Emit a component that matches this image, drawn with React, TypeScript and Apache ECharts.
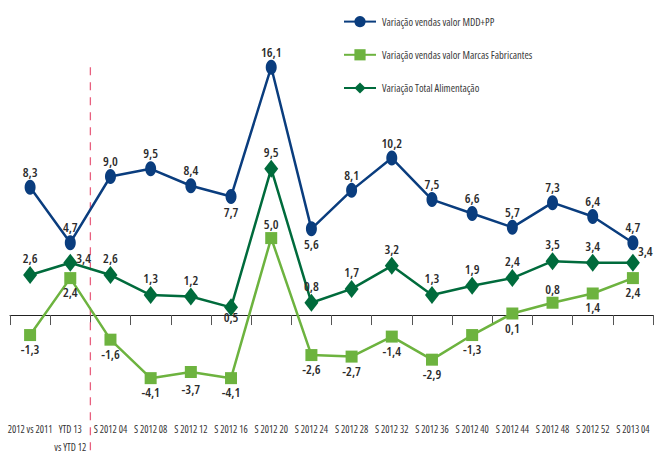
import React, { useEffect, useRef } from "react";
import * as echarts from "echarts";

const categories = [
  "2012 vs 2011",
  "YTD 13\nvs YTD 12",
  "S 2012 04",
  "S 2012 08",
  "S 2012 12",
  "S 2012 16",
  "S 2012 20",
  "S 2012 24",
  "S 2012 28",
  "S 2012 32",
  "S 2012 36",
  "S 2012 40",
  "S 2012 44",
  "S 2012 48",
  "S 2012 52",
  "S 2013 04",
];

const mddValues = [8.3, 4.7, 9.0, 9.5, 8.4, 7.7, 16.1, 5.6, 8.1, 10.2, 7.5, 6.6, 5.7, 7.3, 6.4, 4.7];
const mddLabelPos = ["top", "top", "top", "top", "top", "bottom", "top", "bottom", "top", "top", "top", "top", "top", "top", "top", "top"];

const marcasValues = [-1.3, 2.4, -1.6, -4.1, -3.7, -4.1, 5.0, -2.6, -2.7, -1.4, -2.9, -1.3, 0.1, 0.8, 1.4, 2.4];
const marcasLabelPos = ["bottom", "bottom", "bottom", "bottom", "bottom", "bottom", "top", "bottom", "bottom", "bottom", "bottom", "bottom", "bottom", "top", "bottom", "bottom"];

const totalValues = [2.6, 3.4, 2.6, 1.3, 1.2, 0.5, 9.5, 0.8, 1.7, 3.2, 1.3, 1.9, 2.4, 3.5, 3.4, 3.4];
const totalLabelPos = ["top", "right", "top", "top", "top", "bottom", "top", "top", "top", "top", "top", "top", "top", "top", "top", "right"];

const seriesNames = [
  "Variação vendas valor MDD+PP",
  "Variação vendas valor Marcas Fabricantes",
  "Variação Total Alimentação",
];

const FONT = "Open Sans";
const COND = "normal;font-stretch:condensed";
const fmt = (v: number) => v.toFixed(1).replace(".", ",");

function buildData(values: number[], positions: string[], special: Record<number, number[]> = {}) {
  return values.map((v, i) => ({
    value: v,
    label: {
      position: positions[i],
      distance: positions[i] === "right" ? 1 : 3,
      offset: special[i] || [0, 0],
    },
  }));
}

export default function App() {
  const ref = useRef<HTMLDivElement>(null);
  useEffect(() => {
    if (!ref.current) return;
    const chart = echarts.init(ref.current, undefined, { renderer: "svg" });
    const labelBase = {
      show: true,
      fontFamily: FONT,
      fontStyle: COND,
      fontSize: 13,
      fontWeight: 600,
      color: "#2b2b2b",
      formatter: (p: any) => fmt(p.value),
    };
    chart.setOption({
      animation: false,
      backgroundColor: "#ffffff",
      legend: {
        orient: "vertical",
        left: 338,
        top: 11,
        itemWidth: 32,
        itemHeight: 14,
        itemGap: 22,
        textStyle: {
          fontFamily: FONT,
          fontStyle: COND,
          fontSize: 10.5,
          color: "#3a3a3a",
          padding: [0, 0, 0, 1],
        },
        data: seriesNames,
      },
      grid: {
        left: 10,
        right: 2,
        top: 38,
        height: 354,
        containLabel: false,
        outerBoundsMode: "none",
      },
      xAxis: {
        type: "category",
        data: categories,
        boundaryGap: true,
        axisLine: { onZero: true, lineStyle: { color: "#222", width: 1 } },
        axisTick: { show: true, length: 10, lineStyle: { color: "#555" } },
        axisLabel: {
          interval: 0,
          margin: 28,
          fontFamily: FONT,
          fontStyle: COND,
          fontSize: 10,
          lineHeight: 18,
          color: "#333",
        },
      },
      yAxis: {
        type: "value",
        min: -5,
        max: 18,
        show: false,
        splitLine: { show: false },
      },
      series: [
        {
          name: seriesNames[0],
          type: "line",
          data: buildData(mddValues, mddLabelPos),
          symbol: "circle",
          symbolSize: [11, 15],
          itemStyle: { color: "#0a3d7e" },
          lineStyle: { color: "#0a3d7e", width: 2.5 },
          label: labelBase,
          z: 4,
        },
        {
          name: seriesNames[1],
          type: "line",
          data: buildData(marcasValues, marcasLabelPos, { 4: [0, 3] }),
          symbol: "rect",
          symbolSize: [12, 12],
          itemStyle: { color: "#6db33f" },
          lineStyle: { color: "#6db33f", width: 2.5 },
          label: labelBase,
          z: 3,
        },
        {
          name: seriesNames[2],
          type: "line",
          data: buildData(totalValues, totalLabelPos, { 1: [-2, -5], 5: [0, -7], 15: [-3, -12] }),
          symbol: "diamond",
          symbolSize: [14, 18],
          itemStyle: { color: "#006b3c" },
          lineStyle: { color: "#006b3c", width: 2.5 },
          label: labelBase,
          z: 5,
        },
      ],
    });
    const a = chart.convertToPixel({ xAxisIndex: 0 }, 1) as number;
    const b = chart.convertToPixel({ xAxisIndex: 0 }, 2) as number;
    const top = chart.convertToPixel({ yAxisIndex: 0 }, 16.1) as number;
    const xm = (a + b) / 2;
    chart.setOption({
      graphic: [
        {
          type: "line",
          shape: { x1: xm, y1: top, x2: xm, y2: 453 },
          style: { stroke: "#e8607f", lineWidth: 1.3, lineDash: [8, 7] },
          z: 1,
        },
      ],
    });
    return () => chart.dispose();
  }, []);
  return (
    <div
      ref={ref}
      style={{ position: "absolute", left: 0, top: 0, width: 655, height: 453 }}
    />
  );
}
